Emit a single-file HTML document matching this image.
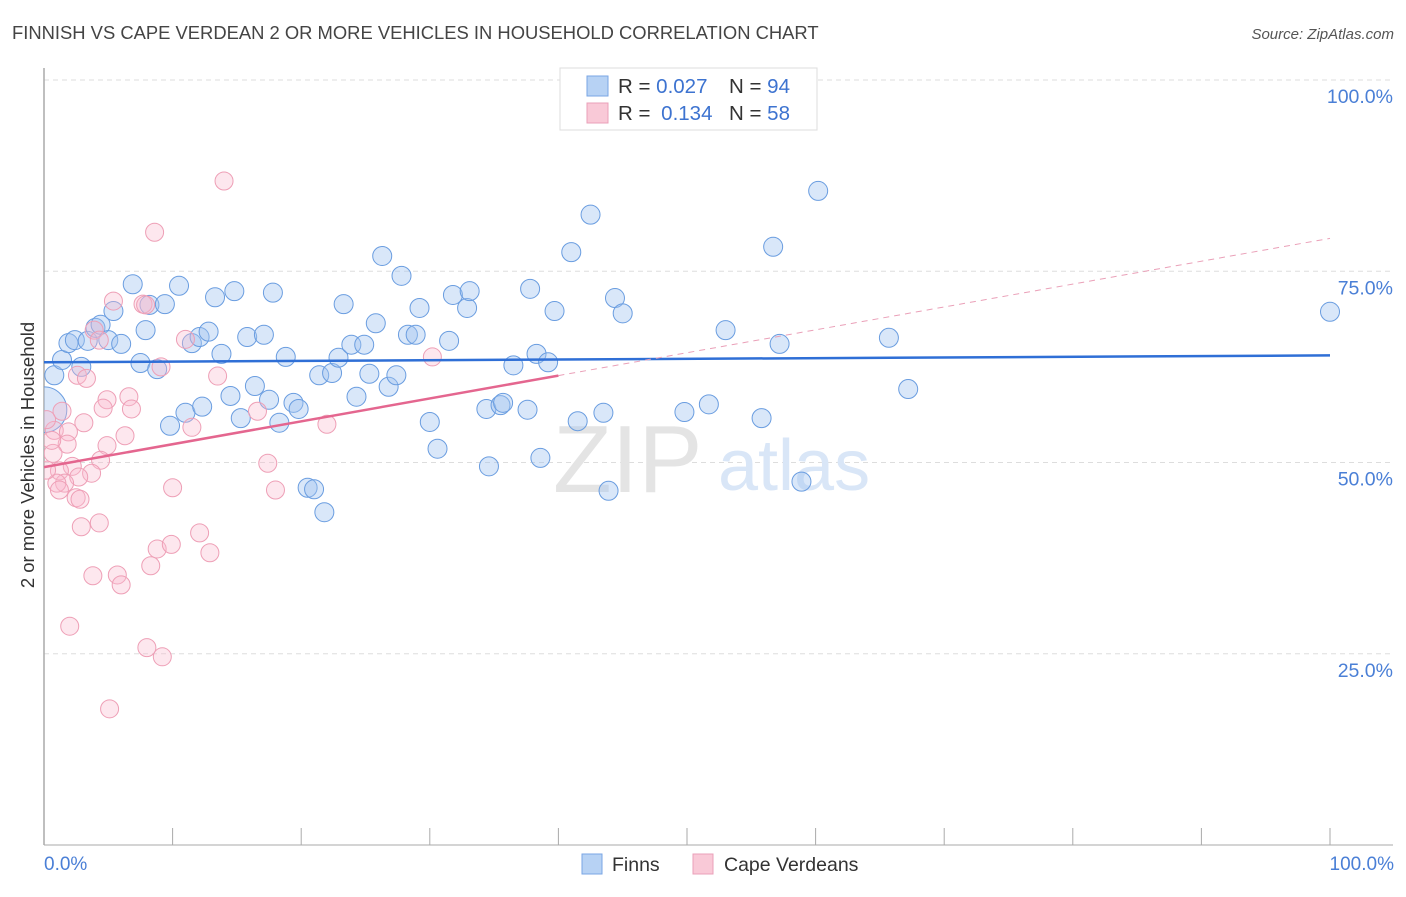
<!DOCTYPE html>
<html><head><meta charset="utf-8"><style>
body{margin:0;background:#fff;font-family:"Liberation Sans",sans-serif;}
svg text{font-family:"Liberation Sans",sans-serif;}
</style></head><body>
<svg id="chart" width="1406" height="892" xmlns="http://www.w3.org/2000/svg">
<defs><clipPath id="plotclip"><rect x="44" y="60" width="1360" height="786"/></clipPath></defs>
<text x="12" y="39" font-size="18.4" fill="#444">FINNISH VS CAPE VERDEAN 2 OR MORE VEHICLES IN HOUSEHOLD CORRELATION CHART</text>
<text x="1394" y="39" font-size="15" fill="#555" font-style="italic" text-anchor="end">Source: ZipAtlas.com</text>
<g id="grid"></g>
<text x="553" y="492" font-size="96" font-family="Liberation Serif" fill="#e4e4e4">ZIP</text>
<text x="718" y="490" font-size="72" fill="#d9e6f7">atlas</text>
<line x1="44" y1="68" x2="44" y2="845" stroke="#aaa" stroke-width="1.5"/>
<line x1="44" y1="845" x2="1393" y2="845" stroke="#aaa" stroke-width="1"/>
<text transform="translate(34,455) rotate(-90)" font-size="18.5" fill="#333" text-anchor="middle">2 or more Vehicles in Household</text>
<text x="44" y="870" font-size="19" fill="#4a7fd6">0.0%</text>
<text x="1394" y="870" font-size="19" fill="#4a7fd6" text-anchor="end">100.0%</text>
<g id="points" clip-path="url(#plotclip)"></g>
<g id="trends"></g>
<g>
<rect x="560" y="68" width="257" height="62" fill="#fff" stroke="#ddd"/>
<rect x="587" y="76" width="21" height="20" fill="#b7d2f4" stroke="#7aa6e4"/>
<rect x="587" y="103" width="21" height="20" fill="#f9c9d7" stroke="#eaa0b8"/>
<text x="618" y="93" font-size="20.5" fill="#333">R = <tspan fill="#3d73d0">0.027</tspan></text>
<text x="729" y="93" font-size="20.5" fill="#333">N = <tspan fill="#3d73d0">94</tspan></text>
<text x="618" y="120" font-size="20.5" fill="#333">R = <tspan fill="#3d73d0" dx="5">0.134</tspan></text>
<text x="729" y="120" font-size="20.5" fill="#333">N = <tspan fill="#3d73d0">58</tspan></text>
</g>
<g>
<rect x="582" y="854" width="20" height="20" fill="#b7d2f4" stroke="#7aa6e4"/>
<text x="612" y="871" font-size="19.5" fill="#333">Finns</text>
<rect x="693" y="854" width="20" height="20" fill="#f9c9d7" stroke="#eaa0b8"/>
<text x="724" y="871" font-size="19.5" fill="#333">Cape Verdeans</text>
</g>
</svg>
<script>
const yTicks=[25,50,75,100];
const yTickLabels=["25.0%","50.0%","75.0%","100.0%"];
const xTicks=[0,10,20,30,40,50,60,70,80,90,100];
const finnsX=[0.8,1.4,1.9,2.4,2.9,3.4,4.0,4.4,5.0,5.4,6.0,6.9,7.5,7.9,8.2,8.8,9.4,9.8,10.5,11.0,11.5,12.1,12.3,12.8,13.3,13.8,14.5,14.8,15.3,15.8,16.4,17.1,17.5,17.8,18.3,18.8,19.4,19.8,20.5,21.0,21.4,21.8,22.4,22.9,23.3,23.9,24.3,24.9,25.3,25.8,26.3,26.8,27.4,27.8,28.3,28.9,29.2,30.0,30.6,31.5,31.8,32.9,33.1,34.4,34.6,35.5,35.7,36.5,37.6,37.8,38.3,38.6,39.2,39.7,41.0,41.5,42.5,43.5,43.9,44.4,45.0,49.8,51.7,53.0,55.8,56.7,57.2,58.9,60.2,65.7,67.2,100,0];
const finnsY=[61.4,63.4,65.6,66.0,62.5,65.9,67.6,68.0,66.0,69.8,65.5,73.3,63.0,67.3,70.6,62.2,70.7,54.8,73.1,56.5,65.6,66.4,57.3,67.1,71.6,64.2,58.7,72.4,55.8,66.4,60.0,66.7,58.2,72.2,55.2,63.8,57.8,57.0,46.7,46.5,61.4,43.5,61.7,63.7,70.7,65.4,58.6,65.4,61.6,68.2,77.0,59.9,61.4,74.4,66.7,66.7,70.2,55.3,51.8,65.9,71.9,70.2,72.4,57.0,49.5,57.5,57.8,62.7,56.9,72.7,64.2,50.6,63.1,69.8,77.5,55.4,82.4,56.5,46.3,71.5,69.5,56.6,57.6,67.3,55.8,78.2,65.5,47.5,85.5,66.3,59.6,69.7,56.9];
const finnsSize=finnsX.map((v,i)=>i===finnsX.length-1?2.4:1);
const capeX=[14.0,8.6,5.4,7.7,7.9,3.9,4.3,11.0,9.1,13.5,2.6,3.3,6.6,4.9,4.6,6.8,30.2,16.6,1.4,11.5,3.1,0.8,1.9,6.3,4.9,1.8,0.7,4.4,17.4,2.2,1.2,3.7,2.7,1.6,1.0,10.0,18.0,2.5,2.8,22.0,4.3,2.9,12.1,8.8,9.9,12.9,8.3,3.8,5.7,6.0,2.0,8.0,9.2,5.1,0.2,0.6,0.2,1.2];
const capeY=[86.8,80.1,71.1,70.7,70.6,67.3,66.0,66.1,62.5,61.3,61.4,61.0,58.6,58.2,57.1,57.0,63.8,56.7,56.7,54.6,55.2,54.2,54.0,53.5,52.2,52.4,51.2,50.3,49.9,49.5,48.9,48.6,48.1,47.3,47.3,46.7,46.4,45.4,45.2,55.0,42.1,41.6,40.8,38.7,39.3,38.2,36.5,35.2,35.3,34.0,28.6,25.8,24.6,17.8,55.6,52.9,49.0,46.4];
const finnsTrend=[63.1,64.0];
const capeTrend=[49.4,79.3];
const capeSolidEnd=40;

const NS="http://www.w3.org/2000/svg";
const xs=v=>44+v*12.86;
const ys=v=>845-v*7.65;
function mk(tag,attrs,parent){const e=document.createElementNS(NS,tag);for(const k in attrs)e.setAttribute(k,attrs[k]);parent.appendChild(e);return e;}
const grid=document.getElementById('grid');
yTicks.forEach((t,i)=>{
  const l=mk('line',{x1:44,x2:1393,y1:ys(t),y2:ys(t),stroke:'#ddd','stroke-dasharray':'5,4'},grid);
  
  
  const tx=mk('text',{x:1393,y:ys(t)+23,'font-size':19.5,fill:'#4a7fd6','text-anchor':'end'},grid);
  tx.textContent=yTickLabels[i];
  
  
});
xTicks.forEach(t=>{
  const l=mk('line',{x1:xs(t),x2:xs(t),y1:828,y2:845,stroke:'#aaa'},grid);
  
  
});
const pts=document.getElementById('points');
finnsX.forEach((x,i)=>{
  const c=mk('circle',{cx:xs(x),cy:ys(finnsY[i]),r:9.5*finnsSize[i],fill:'rgba(160,196,240,0.4)',stroke:'#6a9de0','stroke-width':1},pts);
  
  
});
capeX.forEach((x,i)=>{
  const c=mk('circle',{cx:xs(x),cy:ys(capeY[i]),r:9,fill:'rgba(248,185,205,0.35)',stroke:'#ee9fb6','stroke-width':1},pts);
  
  
});
const tr=document.getElementById('trends');
const bl=mk('line',{x1:xs(0),y1:ys(finnsTrend[0]),x2:xs(100),y2:ys(finnsTrend[1]),stroke:'#2f6fd6','stroke-width':2.5},tr);


const cy=x=>capeTrend[0]+(capeTrend[1]-capeTrend[0])*x/100;
const pl=mk('line',{x1:xs(0),y1:ys(cy(0)),x2:xs(capeSolidEnd),y2:ys(cy(capeSolidEnd)),stroke:'#e4668f','stroke-width':2.5},tr);


const pd=mk('line',{x1:xs(capeSolidEnd),y1:ys(cy(capeSolidEnd)),x2:xs(100),y2:ys(cy(100)),stroke:'#eaa0b8','stroke-width':1,'stroke-dasharray':'6,5'},tr);


</script>
</body></html>
